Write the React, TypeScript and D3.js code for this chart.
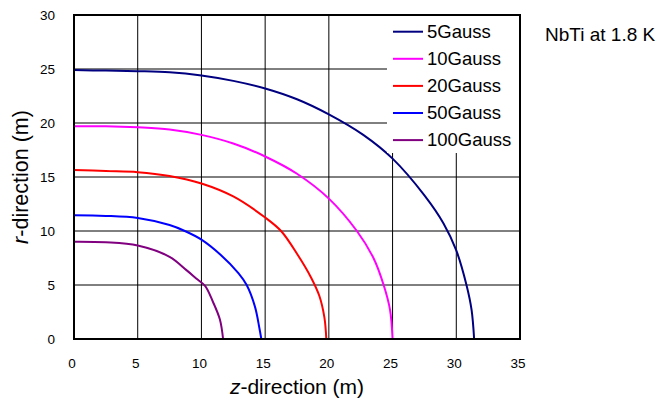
import React from "react";
import * as d3 from "d3";

// field contours, [z (m), r (m)]
const gauss5: [number, number][] = [
  [0, 24.9], [2.5, 24.85], [5, 24.8], [7.5, 24.7], [10, 24.4], [12.5, 23.9],
  [15, 23.2], [17.5, 22.2], [20, 20.8], [22.7, 18.9], [25, 16.7], [27.5, 13.3],
  [29, 10.7], [30, 8.2], [30.8, 5.0], [31.2, 2.7], [31.4, 0],
];
const gauss10: [number, number][] = [
  [0, 19.7], [2.5, 19.7], [5, 19.6], [7.5, 19.4], [10, 18.9], [12.5, 18.1],
  [15, 16.9], [17.5, 15.3], [20, 13.0], [22.2, 10.0], [23.5, 7.5], [24.3, 5.0],
  [24.8, 2.7], [25, 0],
];
const gauss20: [number, number][] = [
  [0, 15.65], [2.5, 15.55], [5, 15.45], [7.5, 15.1], [10, 14.4], [12.5, 13.2],
  [15, 11.25], [16.25, 10.0], [17.55, 7.8], [18.6, 5.7], [19.25, 4.0], [19.65, 2.0],
  [19.8, 0],
];
const gauss50: [number, number][] = [
  [0, 11.45], [2.5, 11.4], [5, 11.2], [7.5, 10.55], [8.7, 10.0], [10, 9.2],
  [11.5, 7.8], [12.9, 6.1], [13.55, 5.0], [14.2, 3.0], [14.55, 1.0], [14.7, 0],
];
const gauss100: [number, number][] = [
  [0, 9.0], [2.5, 8.95], [5, 8.65], [7.5, 7.6], [8.8, 6.4], [9.7, 5.5],
  [10.3, 4.9], [10.9, 3.45], [11.45, 1.8], [11.7, 0],
];

const seriesNames = ["5Gauss", "10Gauss", "20Gauss", "50Gauss", "100Gauss"];
const seriesData = [gauss5, gauss10, gauss20, gauss50, gauss100];
const seriesColors = ["#000080", "#FF00FF", "#FF0000", "#0000FF", "#800080"];

const xTicks = [0, 5, 10, 15, 20, 25, 30, 35];
const yTicks = [0, 5, 10, 15, 20, 25, 30];

const W = 661;
const H = 400;
const margin = { top: 15, right: 141, bottom: 61, left: 74 };
const font = "Arial, 'Liberation Sans', sans-serif";

export default function App() {
  const x = d3.scaleLinear().domain([0, 35]).range([margin.left, W - margin.right]);
  const y = d3.scaleLinear().domain([0, 30]).range([H - margin.bottom, margin.top]);

  const line = d3
    .line<[number, number]>()
    .x((d) => x(d[0]))
    .y((d) => y(d[1]))
    .curve(d3.curveCatmullRom.alpha(0.5));

  const x0 = x(0), x1 = x(35), y0 = y(0), y1 = y(30);

  // legend box sits inside the top-right corner of the plot
  const legX = 387;
  const legBottom = 153;
  const rowH = 27.1;

  return (
    <svg
      width={W}
      height={H}
      style={{ position: "absolute", left: 0, top: 0, background: "#fff" }}
      fontFamily={font}
    >
      {/* grid */}
      {xTicks.slice(1, -1).map((t) => (
        <line key={"gx" + t} x1={x(t)} x2={x(t)} y1={y0} y2={y1} stroke="#000" strokeWidth={1} />
      ))}
      {yTicks.slice(1, -1).map((t) => (
        <line key={"gy" + t} x1={x0} x2={x1} y1={y(t)} y2={y(t)} stroke="#000" strokeWidth={1} />
      ))}

      {/* contours */}
      {seriesData.map((d, i) => (
        <path key={seriesNames[i]} d={line(d) || ""} fill="none" stroke={seriesColors[i]} strokeWidth={2} />
      ))}

      {/* legend */}
      <rect x={legX} y={y1} width={x1 - legX} height={legBottom - y1} fill="#fff" />
      {seriesNames.map((name, i) => {
        const cy = 31.7 + i * rowH;
        return (
          <g key={"leg" + name}>
            <line x1={393} x2={423} y1={cy} y2={cy} stroke={seriesColors[i]} strokeWidth={2} />
            <text x={427} y={cy + 6.3} fontSize={18.5} fill="#000">
              {name}
            </text>
          </g>
        );
      })}

      {/* frame */}
      <rect x={x0} y={y1} width={x1 - x0} height={y0 - y1} fill="none" stroke="#000" strokeWidth={2} />

      {/* tick labels */}
      {xTicks.map((t) => (
        <text key={"tx" + t} x={x(t) - 2} y={368} fontSize={13.5} textAnchor="middle" fill="#000">
          {t}
        </text>
      ))}
      {yTicks.map((t) => (
        <text key={"ty" + t} x={55} y={y(t) + 5} fontSize={13.5} textAnchor="end" fill="#000">
          {t}
        </text>
      ))}

      {/* axis titles */}
      <text x={(x0 + x1) / 2} y={394} fontSize={21} textAnchor="middle" fill="#000">
        <tspan fontStyle="italic">z</tspan>-direction (m)
      </text>
      <text
        transform={`translate(28,${(y0 + y1) / 2}) rotate(-90)`}
        fontSize={21.5}
        textAnchor="middle"
        fill="#000"
      >
        <tspan fontStyle="italic">r</tspan>-direction (m)
      </text>

      <text x={545} y={41} fontSize={19} fill="#000">
        NbTi at 1.8 K
      </text>
    </svg>
  );
}
